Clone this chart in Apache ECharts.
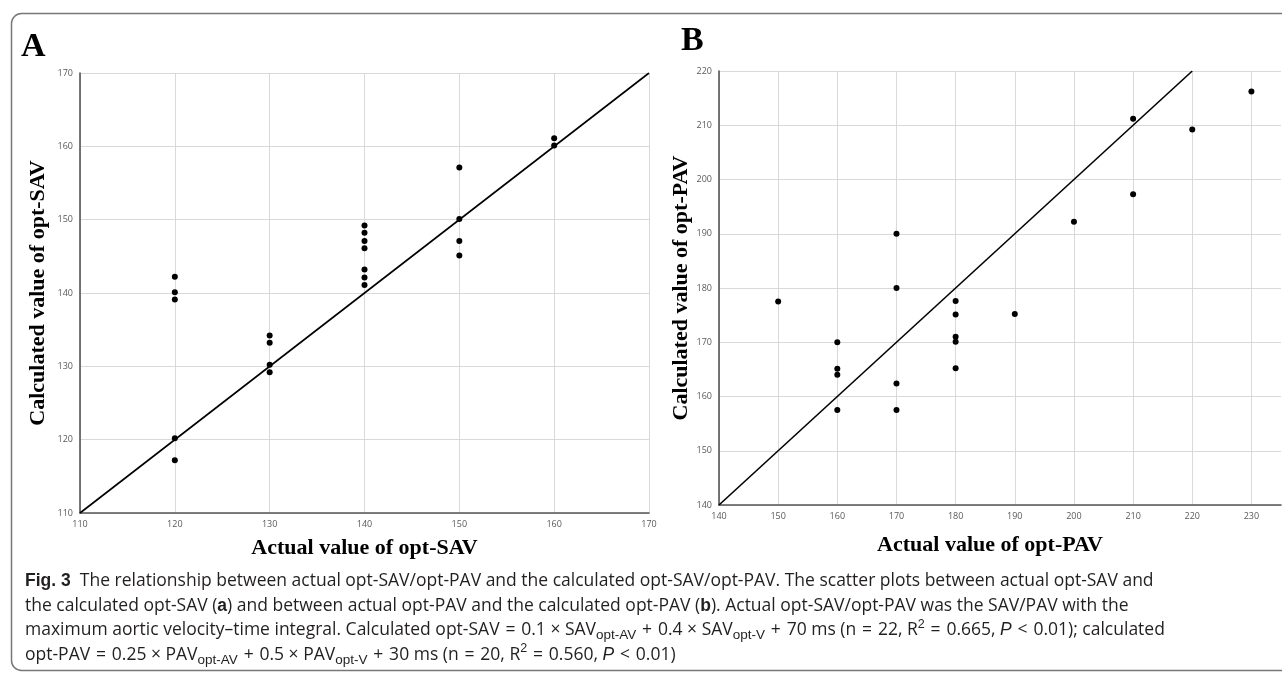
<!DOCTYPE html>
<html>
<head>
<meta charset="utf-8">
<title>Fig. 3 opt-SAV / opt-PAV</title>
<script src="https://cdn.jsdelivr.net/npm/echarts@6/dist/echarts.min.js"></script>
<style>
  html, body { margin: 0; padding: 0; background: #fff; }
  #chart { width: 1282px; height: 681px; }
</style>
</head>
<body>
<div id="chart"></div>
<script>
// panel A: actual vs calculated opt-SAV (n = 22)
const savActual = [120, 120, 120, 120, 120, 130, 130, 130, 130,
  140, 140, 140, 140, 140, 140, 140, 150, 150, 150, 150, 160, 160]
const savCalc = [142.2, 140.1, 139.1, 120.2, 117.2, 134.2, 133.2, 130.2, 129.2,
  149.2, 148.2, 147.1, 146.1, 143.2, 142.1, 141.1, 157.1, 150.1, 147.1, 145.1, 161.1, 160.1]
const savLine = [[110, 110], [170, 170]]

// panel B: actual vs calculated opt-PAV (n = 20)
const pavActual = [150, 160, 160, 160, 160, 170, 170, 170, 170,
  180, 180, 180, 180, 180, 190, 200, 210, 210, 220, 230]
const pavCalc = [177.5, 170, 165.1, 164, 157.5, 190, 180, 162.4, 157.5,
  177.6, 175.1, 171, 170.1, 165.2, 175.2, 192.2, 211.2, 197.3, 209.2, 216.2]
const pavLine = [[140, 140], [220, 220]]

// U+2004 keeps the tight-but-visible spacing around = + <
const sp = "\u2004"
const captionLines = [
  "{b|Fig. 3}  The relationship between actual opt-SAV/opt-PAV and the calculated opt-SAV/opt-PAV. The scatter plots between actual opt-SAV and",
  "the calculated opt-SAV ({b|a}) and between actual opt-PAV and the calculated opt-PAV ({b|b}). Actual opt-SAV/opt-PAV was the SAV/PAV with the",
  `maximum aortic velocity\u2013time integral. Calculated opt-SAV${sp}=${sp}0.1 \u00d7 SAV{sub|opt-AV}${sp}+${sp}0.4 \u00d7 SAV{sub|opt-V}${sp}+${sp}70 ms (n${sp}=${sp}22, R{sup|2}${sp}=${sp}0.665, {i|P}${sp}<${sp}0.01); calculated`,
  `opt-PAV${sp}=${sp}0.25 \u00d7 PAV{sub|opt-AV}${sp}+${sp}0.5 \u00d7 PAV{sub|opt-V}${sp}+${sp}30 ms (n${sp}=${sp}20, R{sup|2}${sp}=${sp}0.560, {i|P}${sp}<${sp}0.01)`
]

const pairs = (xs, ys) => xs.map((x, i) => [x, ys[i]])

const tickColor = "#595959"
const gridColor = "#d9d9d9"
const titleFont = { fontFamily: "Liberation Serif", fontWeight: "bold", fontSize: 22, color: "#000" }

function valueAxis(min, max, gridIndex, name, nameGap, extra) {
  return Object.assign({
    type: "value",
    gridIndex: gridIndex,
    min: min,
    max: max,
    interval: 10,
    name: name,
    nameLocation: "middle",
    nameGap: nameGap,
    nameTextStyle: titleFont,
    axisLine: { show: true, lineStyle: { color: "#555", width: 1.6 } },
    axisTick: { show: false },
    axisLabel: { color: tickColor, fontSize: 9, fontFamily: "Open Sans", margin: 7 },
    splitLine: { show: true, lineStyle: { color: gridColor, width: 1 } }
  }, extra || {})
}

const chart = echarts.init(document.getElementById("chart"))

const option = {
  animation: false,
  backgroundColor: "#fff",
  grid: [
    { left: 80, top: 73, width: 569, height: 440 },
    { left: 719, top: 71, width: 562, height: 434 }
  ],
  xAxis: [
    valueAxis(110, 170, 0, "Actual value of opt-SAV", 24),
    valueAxis(140, 235, 1, "Actual value of opt-PAV", 29, {
      nameTextStyle: Object.assign({ padding: [0, 20, 0, 0] }, titleFont),
      axisLabel: { color: tickColor, fontSize: 9, fontFamily: "Open Sans", margin: 7, showMaxLabel: false },
      splitLine: { show: true, showMaxLine: false, lineStyle: { color: gridColor, width: 1 } }
    })
  ],
  yAxis: [
    valueAxis(110, 170, 0, "Calculated value of opt-SAV", 31),
    valueAxis(140, 220, 1, "Calculated value of opt-PAV", 26)
  ],
  series: [
    {
      type: "line", xAxisIndex: 0, yAxisIndex: 0, data: savLine,
      symbol: "none", silent: true,
      lineStyle: { color: "#000", width: 1.6 }
    },
    {
      type: "scatter", xAxisIndex: 0, yAxisIndex: 0,
      data: pairs(savActual, savCalc),
      symbolSize: 6, itemStyle: { color: "#000", opacity: 1 }
    },
    {
      type: "line", xAxisIndex: 1, yAxisIndex: 1, data: pavLine,
      symbol: "none", silent: true,
      lineStyle: { color: "#000", width: 1.6 }
    },
    {
      type: "scatter", xAxisIndex: 1, yAxisIndex: 1,
      data: pairs(pavActual, pavCalc),
      symbolSize: 6, itemStyle: { color: "#000", opacity: 1 }
    }
  ],
  graphic: [
    {
      type: "rect", left: 9, top: 11, z: -1,
      shape: { width: 1320, height: 657, r: 10 },
      style: { fill: "none", stroke: "#777", lineWidth: 1.5 }
    },
    {
      type: "text", left: 21, top: 30,
      style: { text: "A", font: "bold 34px 'Liberation Serif'", fill: "#000" }
    },
    {
      type: "text", left: 681, top: 24,
      style: { text: "B", font: "bold 34px 'Liberation Serif'", fill: "#000" }
    },
    {
      type: "text", left: 25, top: 569,
      style: {
        text: captionLines.join("\n"),
        fontFamily: "Open Sans",
        fontSize: 17.5,
        lineHeight: 24.5,
        fill: "#231f20",
        rich: {
          b: { fontWeight: "bold", fontSize: 17.5, lineHeight: 24.5 },
          i: { fontStyle: "italic", fontSize: 17.5, lineHeight: 24.5 },
          sub: { fontSize: 13.5, lineHeight: 14, verticalAlign: "bottom" },
          sup: { fontSize: 12.5, lineHeight: 15, verticalAlign: "top" }
        }
      }
    }
  ]
}

chart.setOption(option)
</script>
</body>
</html>
